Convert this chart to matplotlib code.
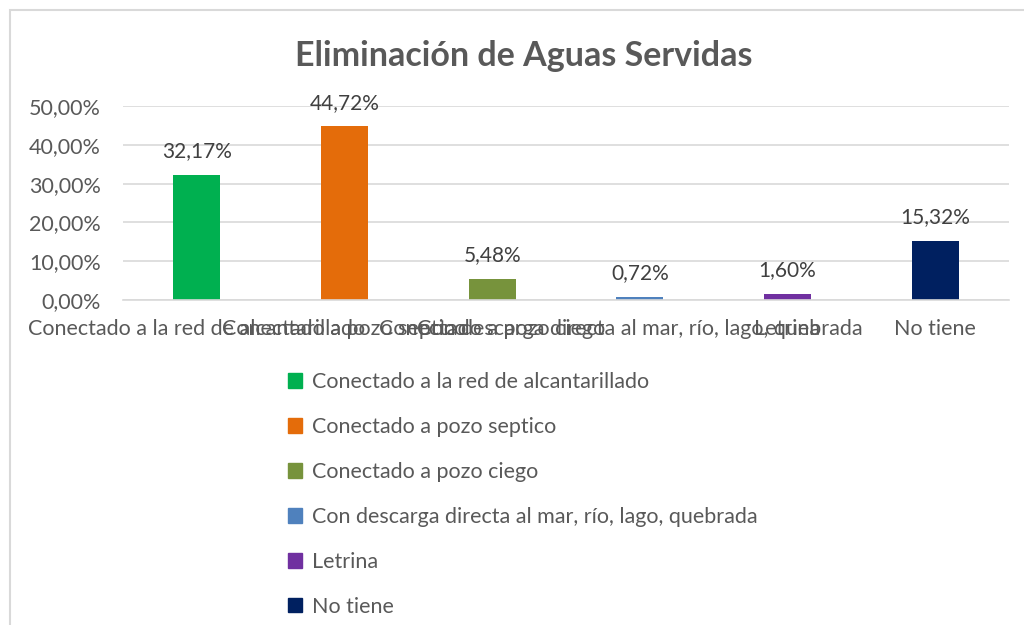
import matplotlib.pyplot as plt
from matplotlib.patches import Rectangle, Patch

categorias = [
    "Conectado a la red de alcantarillado",
    "Conectado a pozo septico",
    "Conectado a pozo ciego",
    "Con descarga directa al mar, río, lago, quebrada",
    "Letrina",
    "No tiene",
]
porcentajes = [32.17, 44.72, 5.48, 0.72, 1.60, 15.32]
colores = ["#00b050", "#e46c0a", "#77933c", "#4f81bd", "#7030a0", "#002060"]
yticks = [0, 10, 20, 30, 40, 50]

plt.rcParams['font.family'] = ['Lato', 'DejaVu Sans']
gris = "#595959"

fig = plt.figure(figsize=(10.24, 6.25), dpi=100)
fig.patches.append(Rectangle((10 / 1024, -0.1), 1.2, 1 - 10 / 625 + 0.1,
                             transform=fig.transFigure, fill=False,
                             edgecolor="#d9d9d9", lw=1.5))

ax = fig.add_axes([123 / 1024, 1 - 300 / 625, 886 / 1024, 194 / 625])
x = list(range(len(categorias)))
bars = ax.bar(x, porcentajes, width=0.32, color=colores)
ax.set_xlim(-0.5, len(categorias) - 0.5)
ax.set_ylim(0, 50)
ax.set_yticks(yticks)
ax.set_yticklabels([f"{v:.2f}%".replace(".", ",") for v in yticks])
ax.set_xticks(x)
ax.set_xticklabels(categorias)
ax.tick_params(axis='both', length=0, labelsize=15.5, labelcolor=gris)
ax.tick_params(axis='y', pad=16)
ax.tick_params(axis='x', pad=14)
ax.grid(axis='y', color="#d9d9d9", lw=1.2)
ax.set_axisbelow(True)
for s in ['top', 'right', 'left']:
    ax.spines[s].set_visible(False)
ax.spines['bottom'].set_color("#d9d9d9")
ax.spines['bottom'].set_linewidth(1.2)

for b, v in zip(bars, porcentajes):
    ax.annotate(f"{v:.2f}%".replace(".", ","), (b.get_x() + b.get_width() / 2, v),
                xytext=(0, 10), textcoords='offset points', ha='center',
                va='bottom', fontsize=15, color="#404040")

fig.text(524 / 1024, 1 - 56 / 625, "Eliminación de Aguas Servidas",
         ha='center', va='center', fontsize=24.5, fontweight='bold', color=gris)

handles = [Patch(color=c) for c in colores]
fig.legend(handles, categorias, loc='upper left',
           bbox_to_anchor=(288 / 1024, 1 - 372 / 625), frameon=False,
           fontsize=15.5, labelcolor=gris, handlelength=0.65, handleheight=0.65,
           handletextpad=0.45, labelspacing=1.16, borderpad=0, borderaxespad=0)

fig.savefig("out.png", dpi=100)
